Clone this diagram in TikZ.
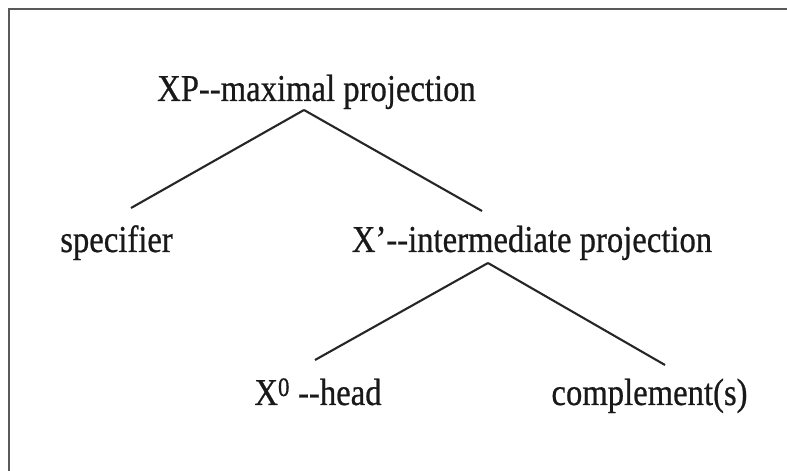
\documentclass[tikz,border=0pt]{standalone}
\usepackage{fontspec}
\setmainfont[FakeStretch=0.86,FakeBold=0.6]{Liberation Serif}
\begin{document}
\begin{tikzpicture}[x=1pt,y=1pt,
  lbl/.style={inner sep=0pt, anchor=base, text=black!90, font=\fontsize{38}{40}\selectfont},
  branch/.style={draw=black!85, line width=2.1pt},
  frame/.style={draw=black!65, line width=2pt}]
\useasboundingbox (0,0) rectangle (787,471);
\fill[white] (0,0) rectangle (787,471);
% open frame along the top and left edges
\draw[frame] (787,462) -- (9,462) -- (9,0);
% labels (the double hyphens are kept apart so they do not join into a dash)
\node[lbl] (xp)   at (316.5,370) {XP-{}-maximal projection};
\node[lbl] (spec) at (116.5,219) {specifier};
\node[lbl] (xbar) at (532,219) {X’-{}-intermediate projection};
\node[lbl] (head) at (318,66) {X\textsuperscript{0} -{}-head};
\node[lbl] (comp) at (649.5,66) {complement(s)};
% branch points
\coordinate (xp-root)   at (304,361);
\coordinate (spec-top)  at (131,263);
\coordinate (xbar-top)  at (482,260);
\coordinate (xbar-root) at (488,208);
\coordinate (head-top)  at (315,111);
\coordinate (comp-top)  at (665,106);
% branches
\draw[branch] (xp-root) -- (spec-top);
\draw[branch] (xp-root) -- (xbar-top);
\draw[branch] (xbar-root) -- (head-top);
\draw[branch] (xbar-root) -- (comp-top);
\end{tikzpicture}
\end{document}
